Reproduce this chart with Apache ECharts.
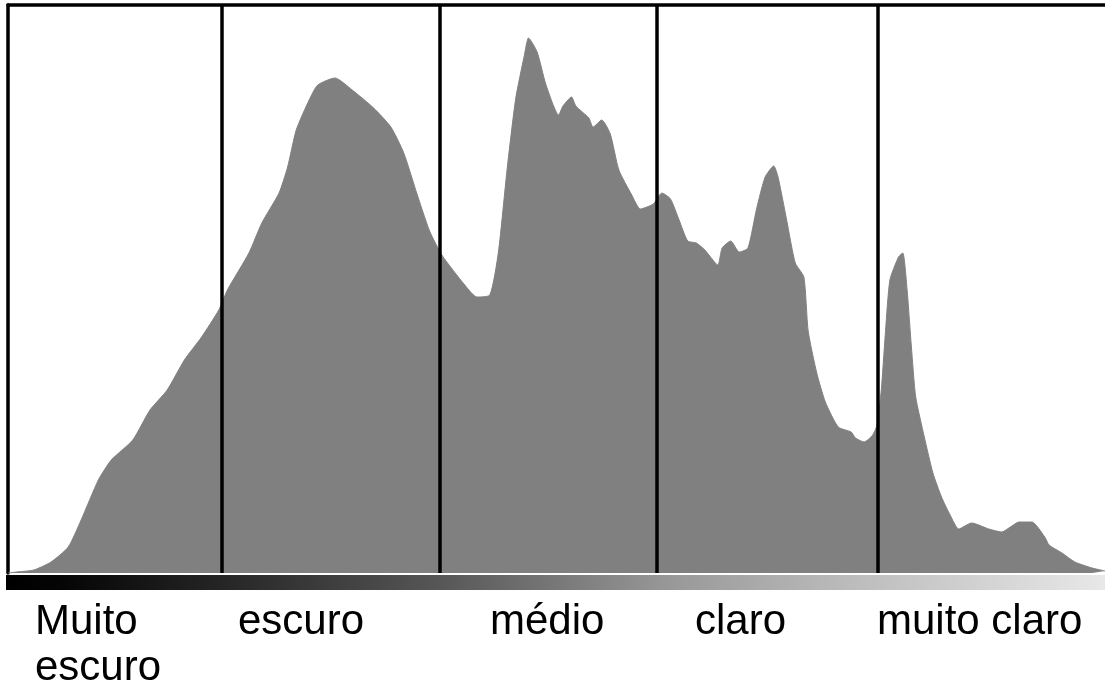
<!DOCTYPE html>
<html>
<head>
<meta charset="utf-8">
<style>
  html, body { margin: 0; padding: 0; background: #fff; }
  #chart { width: 1105px; height: 690px; }
</style>
<script src="https://cdn.jsdelivr.net/npm/echarts@6/dist/echarts.min.js"></script>
</head>
<body>
<div id="chart"></div>
<script>
// Tonal levels (0 = black, 255 = white)
var levels = [0, 2, 6, 10, 14, 17, 21, 24, 29, 33, 37, 41, 45, 49, 51, 56, 59, 63, 65, 67, 70, 72, 76, 80, 85, 89, 92, 95, 98, 101, 106, 109, 112, 114, 116, 118, 120, 121, 123, 125, 128, 129, 131, 132, 135, 136, 138, 140, 142, 145, 147, 150, 152, 154, 156, 158, 160, 162, 165, 166, 168, 170, 172, 174, 176, 178, 179, 181, 183, 185, 186, 188, 190, 193, 196, 197, 199, 201, 202, 203, 204, 205, 207, 208, 209, 210, 211, 213, 215, 217, 219, 221, 224, 228, 231, 233, 235, 238, 241, 242, 245, 248, 252, 255];
// Pixel counts per level (relative units)
var counts = [0, 1, 3, 11, 26, 53, 93, 113, 133, 163, 183, 213, 236, 263, 283, 320, 350, 380, 406, 443, 473, 488, 495, 483, 465, 446, 420, 380, 342, 317, 289, 276, 278, 321, 403, 474, 517, 535, 521, 489, 458, 467, 476, 467, 455, 446, 453, 439, 403, 378, 364, 369, 380, 374, 353, 332, 330, 323, 308, 325, 332, 321, 325, 364, 396, 407, 396, 353, 310, 296, 242, 200, 171, 146, 141, 135, 131, 138, 148, 183, 243, 293, 316, 320, 283, 226, 176, 136, 100, 76, 58, 44, 50, 44, 41, 46, 51, 51, 36, 28, 20, 11, 5, 2];
// Zone boundaries (tonal level)
var boundaries = [49.7, 100.4, 150.9, 202.2];
// Zone labels
var zoneLabels = ['Muito\nescuro', 'escuro', 'médio', 'claro', 'muito claro'];

var seriesData = levels.map(function (l, i) { return [l, counts[i]]; });

var labelX = [35, 238, 490, 695, 877];
var FONT = '42px "Liberation Sans", Arial, sans-serif';

var graphics = [
  {
    type: 'rect',
    shape: { x: 6, y: 575, width: 1099, height: 15 },
    style: {
      fill: new echarts.graphic.LinearGradient(0, 0, 1, 0, [
        { offset: 0, color: '#000000' },
        { offset: 0.05, color: '#050505' },
        { offset: 0.2, color: '#262626' },
        { offset: 0.4, color: '#585858' },
        { offset: 0.6, color: '#979797' },
        { offset: 0.75, color: '#b8b8b8' },
        { offset: 1, color: '#e8e8e8' }
      ])
    },
    silent: true
  }
];
zoneLabels.forEach(function (t, i) {
  graphics.push({
    type: 'text',
    style: {
      x: labelX[i], y: 599,
      text: t,
      font: FONT,
      fill: '#000',
      lineHeight: 46,
      textVerticalAlign: 'top',
      verticalAlign: 'top'
    },
    silent: true
  });
});

var chart = echarts.init(document.getElementById('chart'), null, { renderer: 'canvas' });
chart.setOption({
  animation: false,
  backgroundColor: '#ffffff',
  grid: { left: 8, right: 0, top: 5, bottom: 117, containLabel: false },
  xAxis: [
    {
      type: 'value', min: 0, max: 255,
      axisLine: { show: false }, axisTick: { show: false },
      axisLabel: { show: false }, splitLine: { show: false }
    },
    {
      type: 'value', min: 0, max: 255, position: 'top',
      axisLine: { show: true, lineStyle: { color: '#000', width: 3.5 } },
      axisTick: { show: false }, axisLabel: { show: false }, splitLine: { show: false }
    }
  ],
  yAxis: {
    type: 'value', min: 0, max: 568,
    axisLine: { show: true, lineStyle: { color: '#000', width: 3.5 } },
    axisTick: { show: false }, axisLabel: { show: false }, splitLine: { show: false }
  },
  series: [{
    type: 'line',
    data: seriesData,
    showSymbol: false,
    smooth: 0.2,
    lineStyle: { width: 1, color: '#808080' },
    itemStyle: { color: '#808080' },
    areaStyle: { color: '#808080', opacity: 1 },
    markLine: {
      silent: true,
      symbol: ['none', 'none'],
      label: { show: false },
      lineStyle: { color: '#000', width: 3.5, type: 'solid' },
      emphasis: { disabled: true },
      data: boundaries.map(function (b) { return { xAxis: b }; })
    },
    z: 2
  }],
  graphic: graphics
});
</script>
</body>
</html>
